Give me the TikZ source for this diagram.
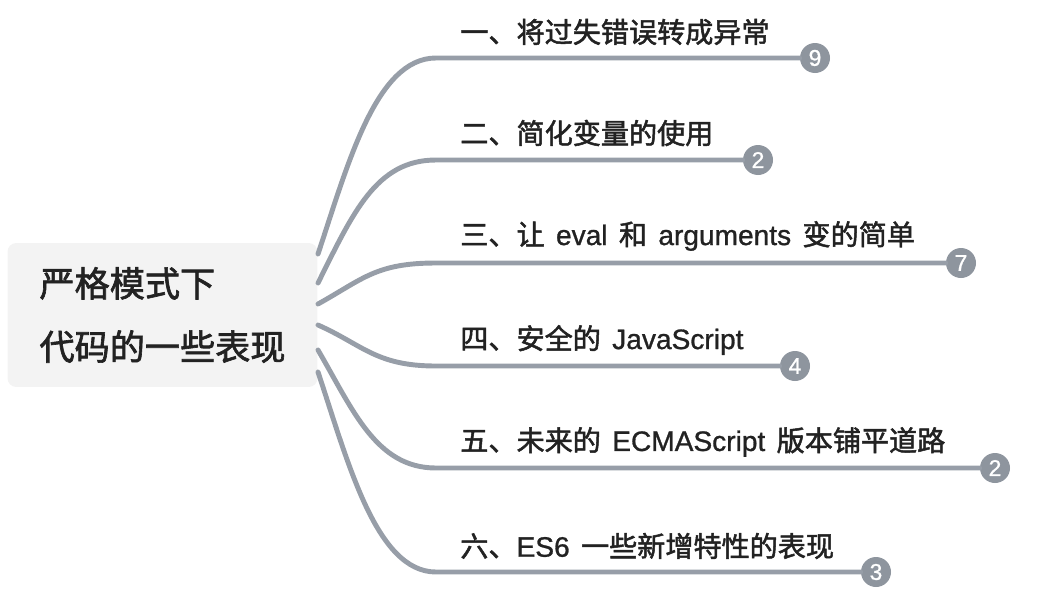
\documentclass[tikz,border=0pt]{standalone}
\usepackage{fontspec}
\setmainfont{Noto Sans CJK SC}[FakeBold=1.8,WordSpace=1.8]
\newfontfamily\latfont{Liberation Sans}[FakeBold=1.0]
\newcommand{\lat}[1]{{\latfont #1}}
\usepackage{tikz}
\usetikzlibrary{positioning}
\definecolor{linegray}{HTML}{979EA8}
\definecolor{badgegray}{HTML}{8E959E}
\definecolor{rootfill}{HTML}{F3F3F3}
\definecolor{textdark}{HTML}{222222}
\begin{document}
\begin{tikzpicture}
[x=0.02cm,y=-0.02cm,
 rootbox/.style={rectangle,rounded corners=5pt,fill=rootfill,minimum width=6.2cm,minimum height=2.88cm,align=left,text=textdark,font=\fontsize{20}{36}\selectfont},
 branch/.style={draw=linegray,line width=2.8pt,line cap=round},
 topic/.style={anchor=west,inner sep=0pt,text=textdark,font=\fontsize{16}{16}\selectfont},
 badge/.style={circle,fill=badgegray,text=white,inner sep=0pt,minimum size=0.6cm,font=\fontsize{13}{13}\selectfont\latfont}]
\useasboundingbox (0,0) rectangle (1048,609);

\node[rootbox] (root) at (162.5,315) {严格模式下\\代码的一些表现};

\coordinate (s1) at (318,254);
\coordinate (s2) at (318,283);
\coordinate (s3) at (318,304);
\coordinate (s4) at (318,325);
\coordinate (s5) at (318,350);
\coordinate (s6) at (318,372);

\coordinate (c1) at (436,58);
\coordinate (c2) at (436,160);
\coordinate (c3) at (436,263);
\coordinate (c4) at (436,366);
\coordinate (c5) at (436,468);
\coordinate (c6) at (436,572);

\node[topic] (t1) at (460,32) {一、将过失错误转成异常};
\node[topic] (t2) at (460,133) {二、简化变量的使用};
\node[topic] (t3) at (460,236) {三、让 \lat{eval} 和 \lat{arguments} 变的简单};
\node[topic] (t4) at (460,340) {四、安全的 \lat{JavaScript}};
\node[topic] (t5) at (460,442) {五、未来的 \lat{ECMAScript} 版本铺平道路};
\node[topic] (t6) at (460,546) {六、\lat{ES6} 一些新增特性的表现};

\node[badge] (n1) at (815,58) {9};
\node[badge] (n2) at (758,160) {2};
\node[badge] (n3) at (961,263) {7};
\node[badge] (n4) at (795,366) {4};
\node[badge] (n5) at (995,468) {2};
\node[badge] (n6) at (876,572) {3};

\draw [branch] (s1) .. controls +(30,-90) and +(-60,0) .. (c1) -- (n1);
\draw [branch] (s2) .. controls +(35,-70) and +(-60,0) .. (c2) -- (n2);
\draw [branch] (s3) .. controls +(45,-25) and +(-60,0) .. (c3) -- (n3);
\draw [branch] (s4) .. controls +(45,20) and +(-60,0) .. (c4) -- (n4);
\draw [branch] (s5) .. controls +(35,60) and +(-60,0) .. (c5) -- (n5);
\draw [branch] (s6) .. controls +(30,90) and +(-60,0) .. (c6) -- (n6);
\end{tikzpicture}
\end{document}
